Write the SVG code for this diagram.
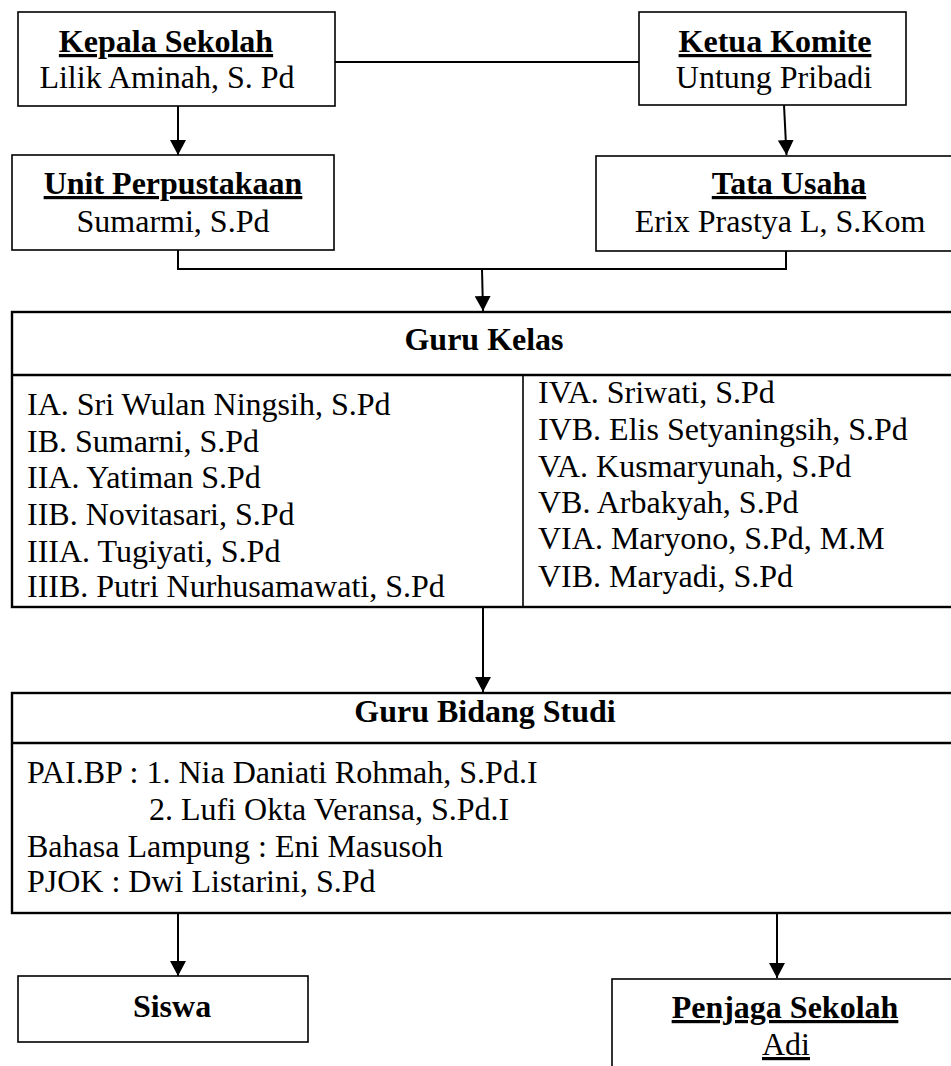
<svg xmlns="http://www.w3.org/2000/svg" width="951" height="1066" viewBox="0 0 951 1066">
<style>
  .box { fill: #fff; stroke: #000; stroke-width: 1.6; }
  .big { fill: #fff; stroke: #000; stroke-width: 2.4; }
  .div { stroke: #000; stroke-width: 2.4; fill: none; }
  .thin { stroke: #000; stroke-width: 1.6; fill: none; }
  .t { font-family: "Liberation Serif", "Times New Roman", serif; font-size: 32px; fill: #000; }
  .b { font-weight: bold; }
  .c { text-anchor: middle; }
  .u { text-decoration: underline; }
  .conn { stroke: #000; stroke-width: 2; fill: none; }
  .arr { marker-end: url(#ah); }
</style>
<defs>
  <marker id="ah" markerUnits="userSpaceOnUse" markerWidth="15" markerHeight="16" refX="15" refY="8" orient="auto">
    <path d="M0,0 L15,8 L0,16 z" fill="#000"/>
  </marker>
</defs>
<rect width="951" height="1066" fill="#fff"/>

<g id="connectors">
  <line class="conn" x1="335" y1="62" x2="639" y2="62"/>
  <line class="conn arr" x1="178" y1="106" x2="178" y2="155"/>
  <line class="conn arr" x1="784" y1="105" x2="786.5" y2="155"/>
  <polyline class="conn" points="178,250 178,269 786,269 786,251"/>
  <line class="conn arr" x1="482" y1="269" x2="483" y2="311"/>
  <line class="conn arr" x1="483" y1="607" x2="483" y2="692"/>
  <line class="conn arr" x1="178" y1="912" x2="178" y2="976"/>
  <line class="conn arr" x1="777" y1="912" x2="777" y2="978"/>
</g>

<g id="kepala-sekolah">
  <rect class="box" x="18" y="12" width="317" height="94"/>
  <text class="t b c u" x="166" y="52">Kepala Sekolah</text>
  <text class="t c" x="167" y="88">Lilik Aminah, S. Pd</text>
</g>

<g id="ketua-komite">
  <rect class="box" x="639" y="12" width="267" height="93"/>
  <text class="t b c u" x="775" y="52">Ketua Komite</text>
  <text class="t c" x="774" y="88">Untung Pribadi</text>
</g>

<g id="unit-perpustakaan">
  <rect class="box" x="12" y="155" width="322" height="95"/>
  <text class="t b c u" x="173" y="194">Unit Perpustakaan</text>
  <text class="t c" x="173" y="232">Sumarmi, S.Pd</text>
</g>

<g id="tata-usaha">
  <rect class="box" x="596" y="156" width="380" height="95"/>
  <text class="t b c u" x="789" y="194">Tata Usaha</text>
  <text class="t c" x="780" y="232">Erix Prastya L, S.Kom</text>
</g>

<g id="guru-kelas">
  <rect class="big" x="12" y="312" width="960" height="295"/>
  <line class="div" x1="12" y1="375" x2="972" y2="375"/>
  <line class="thin" x1="523" y1="375" x2="523" y2="607"/>
  <text class="t b c" x="484" y="350">Guru Kelas</text>
  <text class="t" x="27" y="415">IA. Sri Wulan Ningsih, S.Pd</text>
  <text class="t" x="27" y="452">IB. Sumarni, S.Pd</text>
  <text class="t" x="27" y="488">IIA. Yatiman S.Pd</text>
  <text class="t" x="27" y="525">IIB. Novitasari, S.Pd</text>
  <text class="t" x="27" y="562">IIIA. Tugiyati, S.Pd</text>
  <text class="t" x="27" y="597">IIIB. Putri Nurhusamawati, S.Pd</text>
  <text class="t" x="538" y="403">IVA. Sriwati, S.Pd</text>
  <text class="t" x="538" y="440">IVB. Elis Setyaningsih, S.Pd</text>
  <text class="t" x="538" y="477">VA. Kusmaryunah, S.Pd</text>
  <text class="t" x="538" y="513">VB. Arbakyah, S.Pd</text>
  <text class="t" x="538" y="549">VIA. Maryono, S.Pd, M.M</text>
  <text class="t" x="538" y="587">VIB. Maryadi, S.Pd</text>
</g>

<g id="guru-bidang-studi">
  <rect class="big" x="12" y="693" width="960" height="220"/>
  <line class="div" x1="12" y1="743" x2="972" y2="743"/>
  <text class="t b c" x="485" y="722">Guru Bidang Studi</text>
  <text class="t" x="27" y="783">PAI.BP : 1. Nia Daniati Rohmah, S.Pd.I</text>
  <text class="t" x="149" y="820">2. Lufi Okta Veransa, S.Pd.I</text>
  <text class="t" x="27" y="857">Bahasa Lampung : Eni Masusoh</text>
  <text class="t" x="27" y="892">PJOK : Dwi Listarini, S.Pd</text>
</g>

<g id="siswa">
  <rect class="box" x="18" y="976" width="290" height="66"/>
  <text class="t b c" x="172" y="1017">Siswa</text>
</g>

<g id="penjaga-sekolah">
  <rect class="box" x="612" y="979" width="360" height="120"/>
  <text class="t b c u" x="785" y="1018">Penjaga Sekolah</text>
  <text class="t c u" x="786" y="1055">Adi</text>
</g>
</svg>
